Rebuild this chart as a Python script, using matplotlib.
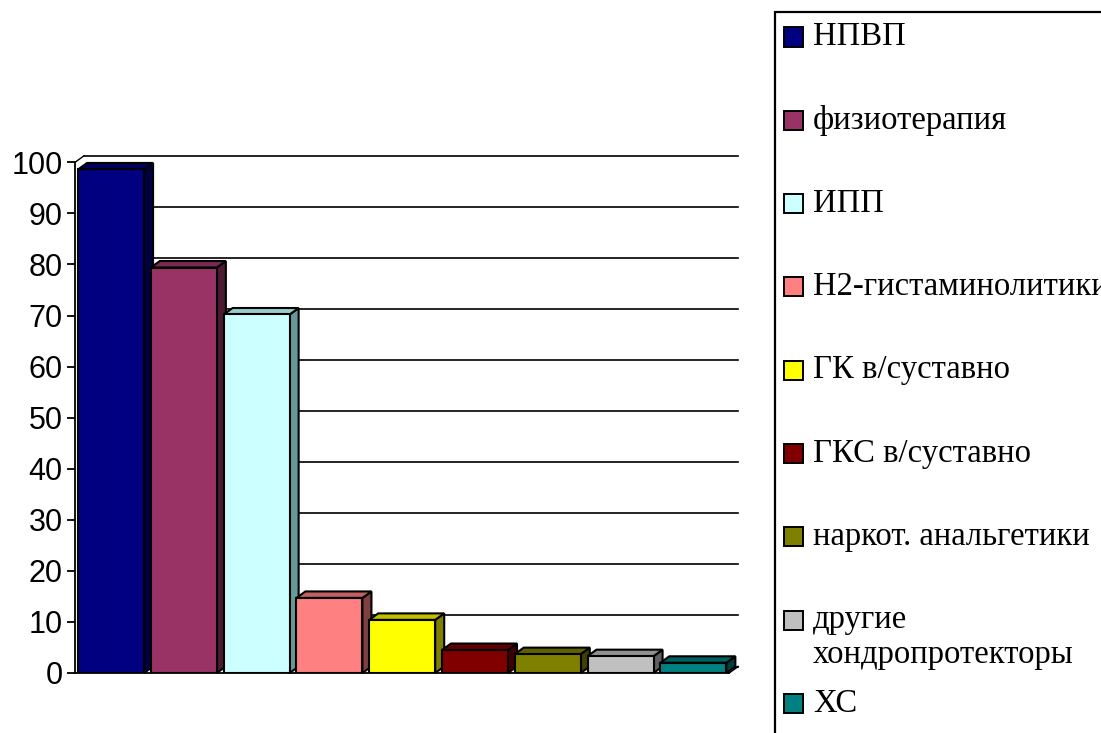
"""Excel-style pseudo-3D bar chart of therapy usage, drawn with matplotlib."""

import matplotlib
matplotlib.use("Agg")
import matplotlib.pyplot as plt
from matplotlib.patches import Rectangle

categories = [
    "НПВП",
    "физиотерапия",
    "ИПП",
    "Н2-гистаминолитики",
    "ГК в/суставно",
    "ГКС в/суставно",
    "наркот. анальгетики",
    "другие\nхондропротекторы",
    "ХС",
]
values = [98.6, 79.4, 70.2, 14.7, 10.4, 4.5, 3.7, 3.3, 2.0]
front_colors = ["#000080", "#993366", "#CCFFFF", "#FF8080", "#FFFF00",
                "#800000", "#808000", "#C0C0C0", "#008080"]
side_colors = ["#000040", "#4D1A33", "#669999", "#804040", "#808000",
               "#400000", "#404000", "#606060", "#004040"]
top_colors = ["#000060", "#7A2952", "#99CCCC", "#C06060", "#C0C000",
              "#600000", "#606000", "#909090", "#006060"]
yticks = [0, 10, 20, 30, 40, 50, 60, 70, 80, 90, 100]

W, H = 1101, 733
fig = plt.figure(figsize=(W / 100, H / 100), dpi=100)
ax = fig.add_axes([75 / W, (H - 673) / H, (729 - 75) / W, (673 - 162.3) / H])

x_lo, x_hi = -0.495, 8.49
ax.set_xlim(x_lo, x_hi)
ax.set_ylim(0, 100)

bar_w = 0.907
dx, dy = 0.124, 1.27  # depth of the fake 3D

# back wall gridlines
for t in yticks:
    ax.plot([x_lo + dx, x_hi + dx], [t + dy, t + dy], color="black",
            lw=1.2, clip_on=False, zorder=1)
ax.plot([x_lo, x_lo + dx], [100, 100 + dy], color="black", lw=1.0,
        clip_on=False, zorder=1)
ax.plot([x_hi, x_hi + dx], [0, dy], color="black", lw=1.2,
        clip_on=False, zorder=1)

xs = list(range(len(values)))
bars = ax.bar(xs, values, width=bar_w, color=front_colors,
              edgecolor="black", linewidth=1.5, zorder=3)
for b, v, sc, tc in zip(bars, values, side_colors, top_colors):
    x0 = b.get_x()
    x1 = x0 + b.get_width()
    ax.fill([x1, x1 + dx, x1 + dx, x1], [0, dy, v + dy, v], facecolor=sc,
            edgecolor="black", linewidth=1.5, zorder=2, clip_on=False)
    ax.fill([x0, x0 + dx, x1 + dx, x1], [v, v + dy, v + dy, v], facecolor=tc,
            edgecolor="black", linewidth=1.5, zorder=2, clip_on=False)

for side in ("top", "right"):
    ax.spines[side].set_visible(False)
ax.spines["left"].set_linewidth(1.3)
ax.spines["bottom"].set_linewidth(1.3)
ax.spines["bottom"].set_zorder(4)
ax.set_xticks([])
ax.set_yticks(yticks)
ax.set_yticklabels([str(t) for t in yticks], fontfamily="Liberation Sans",
                   fontsize=22)
ax.tick_params(axis="y", direction="out", length=6, width=1.3, pad=3)
ax.patch.set_alpha(0)


# legend, drawn by hand so the two-line label lines up like the original
def px(x, y):
    return x / W, 1 - y / H


fig.add_artist(Rectangle(px(775, 760), (1200 - 775) / W, (760 - 12) / H,
                         transform=fig.transFigure, facecolor="white",
                         edgecolor="black", linewidth=1.6, zorder=0))
row0, row_step, line_step = 37, 83.3, 35
for i, (lab, col) in enumerate(zip(categories, front_colors)):
    yc = row0 + i * row_step
    fig.add_artist(Rectangle(px(784, yc + 9.5), 19 / W, 19 / H,
                             transform=fig.transFigure, facecolor=col,
                             edgecolor="black", linewidth=1.4, zorder=2))
    for k, line in enumerate(lab.split("\n")):
        fig.text(*px(813, yc + k * line_step), line, va="center", ha="left",
                 fontfamily="Liberation Serif", fontsize=23.5, zorder=3)

fig.savefig("out.png", dpi=100)
